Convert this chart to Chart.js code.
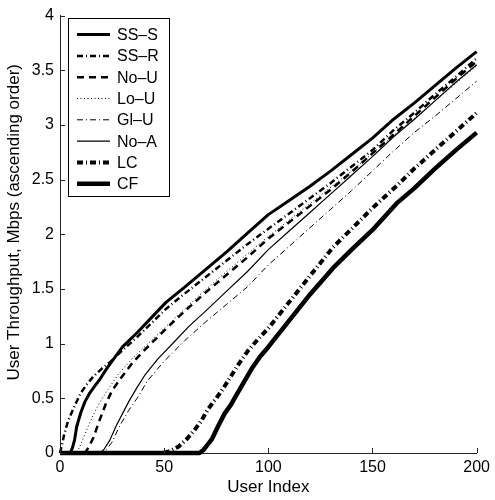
<!DOCTYPE html>
<html>
<head>
<meta charset="utf-8">
<script src="https://cdn.jsdelivr.net/npm/chart.js@4"></script>
<style>
  html, body { margin: 0; padding: 0; background: #fff; }
</style>
</head>
<body>
<canvas id="tputChart" width="495" height="500"></canvas>
<script>
// sorted per-user throughput (Mbps) vs user index, one pair of arrays per scheme
const X_TICKS = [0, 50, 100, 150, 200];
const Y_TICKS = [0, 0.5, 1, 1.5, 2, 2.5, 3, 3.5, 4];
const Y_TITLE = 'User Throughput, Mbps (ascending order)';
const X_TITLE = 'User Index';

const ssS_idx = [0, 5, 6, 7, 8, 10, 12, 14, 17, 19, 22, 25, 30, 37, 44, 51, 60, 70, 80, 90, 100, 110, 120, 130, 140, 150, 160, 170, 180, 190, 200];
const ssS_val = [0, 0, 0.05, 0.12, 0.24, 0.37, 0.47, 0.54, 0.62, 0.67, 0.76, 0.84, 0.97, 1.1, 1.24, 1.38, 1.52, 1.68, 1.84, 2.01, 2.18, 2.31, 2.44, 2.58, 2.73, 2.88, 3.05, 3.2, 3.36, 3.52, 3.67];

const ssR_idx = [0, 1, 2, 4, 7, 10, 13, 16, 20, 24, 30, 37, 44, 51, 60, 70, 80, 90, 100, 110, 120, 130, 140, 150, 160, 170, 180, 190, 200];
const ssR_val = [0, 0.08, 0.17, 0.3, 0.43, 0.55, 0.63, 0.7, 0.77, 0.83, 0.94, 1.06, 1.19, 1.32, 1.46, 1.61, 1.76, 1.91, 2.05, 2.19, 2.33, 2.47, 2.62, 2.77, 2.95, 3.11, 3.28, 3.44, 3.61];

const noU_idx = [0, 12, 14, 16, 19, 22, 25, 29, 35, 40, 50, 60, 70, 80, 90, 100, 110, 120, 130, 140, 150, 160, 170, 180, 190, 200];
const noU_val = [0, 0, 0.06, 0.14, 0.3, 0.45, 0.57, 0.68, 0.83, 0.93, 1.12, 1.3, 1.47, 1.63, 1.79, 1.96, 2.11, 2.26, 2.41, 2.57, 2.74, 2.91, 3.08, 3.25, 3.42, 3.58];

const loU_idx = [0, 8, 10, 13, 16, 19, 23, 28, 35, 45, 55, 65, 75, 90, 100, 120, 140, 160, 180, 200];
const loU_val = [0, 0, 0.08, 0.22, 0.35, 0.46, 0.58, 0.72, 0.87, 1.05, 1.23, 1.41, 1.58, 1.82, 1.98, 2.28, 2.58, 2.9, 3.22, 3.54];

const glU_idx = [0, 21, 25, 29, 33, 37, 42, 50, 60, 70, 80, 90, 100, 110, 120, 130, 140, 150, 160, 170, 180, 190, 200];
const glU_val = [0, 0, 0.1, 0.26, 0.39, 0.5, 0.66, 0.84, 1.03, 1.2, 1.36, 1.52, 1.72, 1.89, 2.06, 2.23, 2.4, 2.58, 2.76, 2.93, 3.08, 3.24, 3.4];

const noA_idx = [0, 19, 21, 24, 27, 30, 33, 37, 41, 47, 55, 62, 70, 80, 90, 100, 110, 120, 130, 140, 150, 160, 170, 180, 190, 200];
const noA_val = [0, 0, 0.03, 0.12, 0.25, 0.36, 0.47, 0.6, 0.72, 0.86, 1.02, 1.16, 1.3, 1.48, 1.66, 1.86, 2.03, 2.2, 2.37, 2.54, 2.71, 2.89, 3.05, 3.22, 3.39, 3.55];

const lc_idx = [0, 50, 53, 57, 61, 65, 68, 71, 75, 78, 82, 86, 90, 95, 100, 110, 120, 131, 140, 150, 162, 170, 180, 190, 200];
const lc_val = [0, 0, 0.02, 0.06, 0.13, 0.22, 0.3, 0.4, 0.5, 0.58, 0.7, 0.82, 0.93, 1.04, 1.14, 1.38, 1.62, 1.88, 2.05, 2.24, 2.45, 2.6, 2.77, 2.94, 3.11];

const cf_idx = [0, 67, 69, 71, 73, 76, 79, 82, 85, 88, 92, 96, 100, 110, 120, 131, 140, 150, 162, 170, 180, 190, 200];
const cf_val = [0, 0, 0.03, 0.08, 0.13, 0.25, 0.36, 0.44, 0.54, 0.64, 0.77, 0.88, 0.97, 1.21, 1.45, 1.69, 1.86, 2.04, 2.29, 2.42, 2.6, 2.77, 2.93];

const FONT = '"Liberation Sans", Arial, Helvetica, sans-serif';
const AXIS = '#262626';

function pts(xs, ys) {
  return xs.map((x, i) => ({ x: x, y: ys[i] }));
}

function series(label, xs, ys, width, dash) {
  return {
    label: label,
    data: pts(xs, ys),
    borderColor: '#000',
    backgroundColor: '#000',
    borderWidth: width,
    borderDash: dash,
    borderCapStyle: 'butt',
    borderJoinStyle: 'round',
    pointRadius: 0,
    tension: 0,
    fill: false,
    clip: 6
  };
}

const DASH_DOT = [6, 3, 1, 3];

const datasets = [
  series('SS\u2013S', ssS_idx, ssS_val, 3, []),
  series('SS\u2013R', ssR_idx, ssR_val, 2.5, DASH_DOT),
  series('No\u2013U', noU_idx, noU_val, 2.5, [7, 5]),
  series('Lo\u2013U', loU_idx, loU_val, 1, [1, 2.5]),
  series('Gl\u2013U', glU_idx, glU_val, 1, DASH_DOT),
  series('No\u2013A', noA_idx, noA_val, 1.2, []),
  series('LC', lc_idx, lc_val, 4, DASH_DOT),
  series('CF', cf_idx, cf_val, 4.5, [])
];

// inward tick marks + y label, matlab style
const innerTicks = {
  id: 'innerTicks',
  afterDraw(chart) {
    const { ctx, chartArea: a, scales } = chart;
    ctx.save();
    ctx.strokeStyle = AXIS;
    ctx.lineWidth = 1;
    ctx.beginPath();
    X_TICKS.forEach(v => {
      const px = Math.round(scales.x.getPixelForValue(v)) + 0.5;
      ctx.moveTo(px, a.bottom);
      ctx.lineTo(px, a.bottom - 5);
    });
    Y_TICKS.forEach(v => {
      const py = Math.round(scales.y.getPixelForValue(v)) + 0.5;
      ctx.moveTo(a.left, py);
      ctx.lineTo(a.left + 5, py);
    });
    ctx.stroke();

    // y title sits a little above the axis centre in the original
    ctx.translate(14, a.top + (a.bottom - a.top) / 2 - 12);
    ctx.rotate(-Math.PI / 2);
    ctx.font = '17px ' + FONT;
    ctx.fillStyle = '#000';
    ctx.textAlign = 'center';
    ctx.textBaseline = 'middle';
    ctx.fillText(Y_TITLE, 0, 0);
    ctx.restore();
  }
};

// boxed legend in the top-left corner of the axes
const boxLegend = {
  id: 'boxLegend',
  afterDatasetsDraw(chart) {
    const { ctx, chartArea: a } = chart;
    const left = a.left + 8, top = a.top + 2;
    const rowH = 21.3;
    ctx.save();
    ctx.font = '16px ' + FONT;
    const textW = Math.max(...datasets.map(d => ctx.measureText(d.label).width));
    const boxW = 49 + textW + 10;
    const boxH = 178;
    ctx.fillStyle = '#fff';
    ctx.fillRect(left, top, boxW, boxH);
    ctx.strokeStyle = '#000';
    ctx.lineWidth = 1;
    ctx.setLineDash([]);
    ctx.strokeRect(Math.round(left) + 0.5, Math.round(top) + 0.5, Math.round(boxW), boxH);
    datasets.forEach((d, i) => {
      const y = top + 17 + rowH * i;
      ctx.beginPath();
      ctx.setLineDash(d.borderDash);
      ctx.lineDashOffset = 0;
      ctx.lineWidth = d.borderWidth;
      ctx.lineCap = 'butt';
      ctx.strokeStyle = '#000';
      ctx.moveTo(left + 9, y);
      ctx.lineTo(left + 42, y);
      ctx.stroke();
      ctx.setLineDash([]);
      ctx.fillStyle = '#000';
      ctx.textBaseline = 'middle';
      ctx.textAlign = 'left';
      ctx.fillText(d.label, left + 49, y + 1);
    });
    ctx.restore();
  }
};

new Chart(document.getElementById('tputChart'), {
  type: 'line',
  data: { datasets: datasets },
  options: {
    responsive: false,
    animation: false,
    events: [],
    layout: { padding: { top: 11, right: 13, left: 0, bottom: 0 } },
    plugins: {
      legend: { display: false },
      tooltip: { enabled: false }
    },
    scales: {
      x: {
        type: 'linear',
        min: 0,
        max: 200,
        afterBuildTicks: s => { s.ticks = X_TICKS.map(v => ({ value: v })); },
        afterFit: s => { s.height = 47; },
        grid: { display: false, drawTicks: false, tickLength: 0 },
        border: { display: true, color: AXIS, width: 1 },
        ticks: {
          padding: 5,
          color: '#000',
          font: { family: FONT, size: 16 },
          maxRotation: 0,
          autoSkip: false,
          callback: v => String(v)
        },
        title: {
          display: true,
          text: X_TITLE,
          color: '#000',
          font: { family: FONT, size: 17 },
          padding: { top: 0, bottom: 2 }
        }
      },
      y: {
        type: 'linear',
        min: 0,
        max: 4,
        afterBuildTicks: s => { s.ticks = Y_TICKS.map(v => ({ value: v })); },
        afterFit: s => { s.width = 60; },
        grid: { display: false, drawTicks: false, tickLength: 0 },
        border: { display: true, color: AXIS, width: 1 },
        ticks: {
          padding: 6,
          color: '#000',
          font: { family: FONT, size: 16 },
          autoSkip: false,
          callback: v => String(v)
        },
        title: { display: false }
      }
    }
  },
  plugins: [innerTicks, boxLegend]
});
</script>
</body>
</html>
